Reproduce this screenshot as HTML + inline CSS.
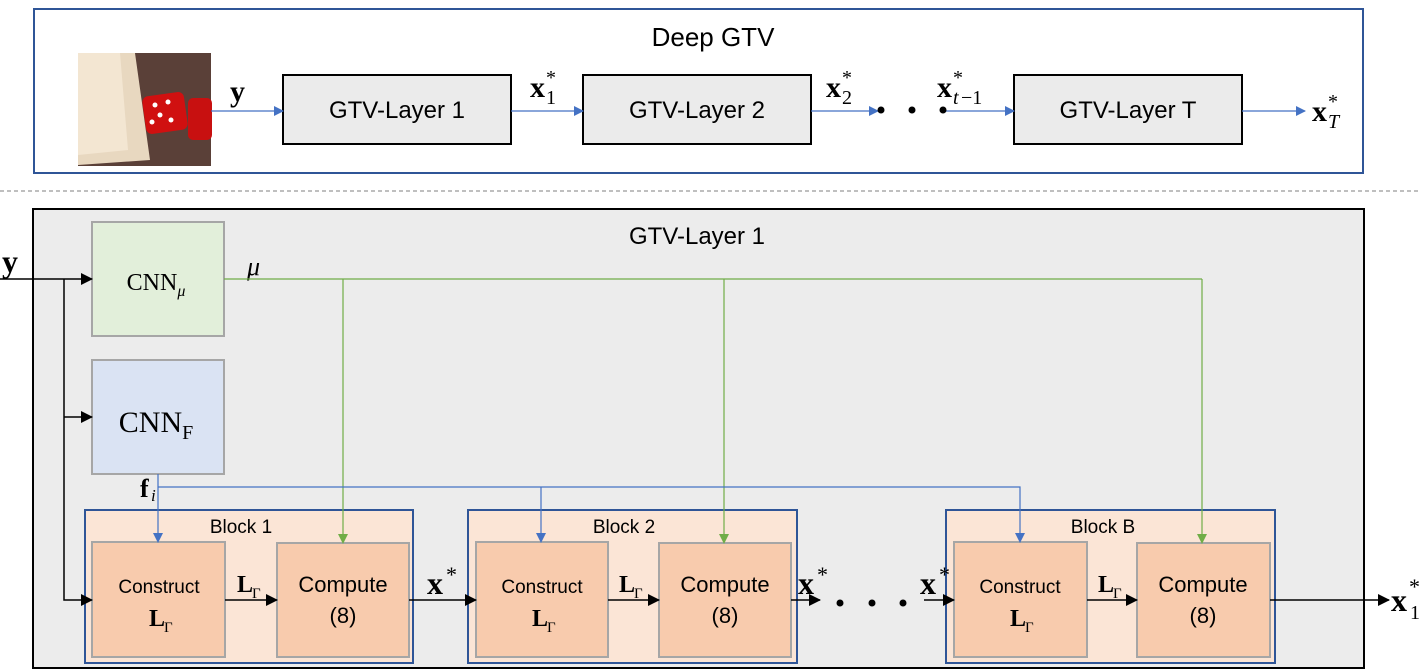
<!DOCTYPE html>
<html><head><meta charset="utf-8"><style>
html,body{margin:0;padding:0;background:#fff;}
svg{display:block;}
text{font-family:"Liberation Sans",sans-serif;}
.m{font-family:"Liberation Serif",serif;}
</style></head><body>
<svg width="1421" height="670" viewBox="0 0 1421 670" xmlns="http://www.w3.org/2000/svg">
<defs>
<marker id="ab" markerWidth="10" markerHeight="10" refX="9" refY="5" orient="auto" markerUnits="userSpaceOnUse"><path d="M0,0 L10,5 L0,10 z" fill="#4472c4"/></marker>
<marker id="ak" markerWidth="12" markerHeight="12" refX="11" refY="6" orient="auto" markerUnits="userSpaceOnUse"><path d="M0,0 L12,6 L0,12 z" fill="#000"/></marker>
<marker id="ag" markerWidth="10" markerHeight="10" refX="9" refY="5" orient="auto" markerUnits="userSpaceOnUse"><path d="M0,0 L10,5 L0,10 z" fill="#70ad47"/></marker>
</defs>
<rect x="34" y="9" width="1329" height="164" fill="#fff" stroke="#2f5597" stroke-width="2"/>
<text x="713" y="46" font-size="26" text-anchor="middle">Deep GTV</text>
<rect x="78" y="53" width="133" height="113" fill="#5a4038"/>
<polygon points="78,53 135,53 150,160 78,165" fill="#e8d8c0"/>
<polygon points="78,53 120,53 128,150 78,155" fill="#f3e6d2"/>
<rect x="144" y="94" width="42" height="38" rx="6" fill="#d01010" transform="rotate(-8 165 113)"/>
<rect x="188" y="98" width="24" height="42" rx="5" fill="#c81010"/>
<circle cx="155" cy="105" r="2.5" fill="#fff"/><circle cx="168" cy="102" r="2.5" fill="#fff"/><circle cx="160" cy="115" r="2.5" fill="#fff"/><circle cx="152" cy="122" r="2.5" fill="#fff"/><circle cx="171" cy="120" r="2.5" fill="#fff"/>
<g fill="#ebebeb" stroke="#000" stroke-width="2">
<rect x="283" y="75" width="228" height="69"/>
<rect x="583" y="75" width="228" height="69"/>
<rect x="1014" y="75" width="228" height="69"/>
</g>
<g font-size="24" text-anchor="middle">
<text x="397" y="118">GTV-Layer 1</text>
<text x="697" y="118">GTV-Layer 2</text>
<text x="1128" y="118">GTV-Layer T</text>
</g>
<g stroke="#4472c4" stroke-width="1.3" marker-end="url(#ab)">
<line x1="211" y1="111" x2="283" y2="111"/>
<line x1="511" y1="111" x2="583" y2="111"/>
<line x1="811" y1="111" x2="878" y2="111"/>
<line x1="944" y1="111" x2="1014" y2="111"/>
<line x1="1242" y1="111" x2="1305" y2="111"/>
</g>
<g fill="#000"><circle cx="881" cy="110" r="3.5"/><circle cx="912" cy="110" r="3.5"/><circle cx="943" cy="110" r="3.5"/></g>
<g font-size="30" font-weight="bold">
<text x="230" y="101" class="m">y</text>
<text x="530" y="97" class="m">x</text>
<text x="826" y="97" class="m">x</text>
<text x="937" y="97" class="m">x</text>
<text x="1312" y="121" class="m">x</text>
</g>
<g font-size="20">
<text x="546" y="84" class="m">*</text><text x="546" y="104" class="m">1</text>
<text x="842" y="84" class="m">*</text><text x="842" y="104" class="m">2</text>
<text x="953" y="84" class="m">*</text><text x="953" y="104" class="m" font-style="italic">t</text><text x="961" y="104" class="m">−1</text>
<text x="1328" y="108" class="m">*</text><text x="1328" y="128" class="m" font-style="italic">T</text>
</g>
<line x1="0" y1="191" x2="1421" y2="191" stroke="#999" stroke-width="1.2" stroke-dasharray="4,3"/>
<rect x="33" y="209" width="1331" height="459" fill="#ececec" stroke="#000" stroke-width="2"/>
<text x="697" y="244" font-size="24" text-anchor="middle">GTV-Layer 1</text>
<rect x="92" y="222" width="132" height="114" fill="#e2efda" stroke="#a6a6a6" stroke-width="2"/>
<rect x="92" y="360" width="132" height="114" fill="#dae3f3" stroke="#a6a6a6" stroke-width="2"/>
<text x="156" y="290" font-size="24" text-anchor="middle" class="m">CNN<tspan font-size="16" font-style="italic" dy="6">μ</tspan></text>
<text x="156" y="432" font-size="30" text-anchor="middle" class="m">CNN<tspan font-size="20" dy="7">F</tspan></text>
<g fill="#fbe5d6" stroke="#2f5597" stroke-width="2">
<rect x="85" y="510" width="328" height="153"/>
<rect x="468" y="510" width="329" height="153"/>
<rect x="946" y="510" width="329" height="153"/>
</g>
<g fill="#f8cbad" stroke="#a6a6a6" stroke-width="2">
<rect x="92" y="542" width="133" height="115"/><rect x="277" y="543" width="132" height="114"/>
<rect x="476" y="542" width="132" height="115"/><rect x="659" y="543" width="132" height="114"/>
<rect x="954" y="542" width="133" height="115"/><rect x="1137" y="543" width="133" height="114"/>
</g>
<g font-size="19" text-anchor="middle">
<text x="241" y="533">Block 1</text><text x="624" y="533">Block 2</text><text x="1103" y="533">Block B</text>
</g>
<g font-size="19" text-anchor="middle">
<text x="159" y="593">Construct</text><text x="542" y="593">Construct</text><text x="1020" y="593">Construct</text>
</g>
<g font-size="22" text-anchor="middle">
<text x="343" y="592">Compute</text><text x="343" y="623">(8)</text>
<text x="725" y="592">Compute</text><text x="725" y="623">(8)</text>
<text x="1203" y="592">Compute</text><text x="1203" y="623">(8)</text>
</g>
<g font-size="24" font-weight="bold">
<text x="149" y="626" class="m">L</text><text x="532" y="626" class="m">L</text><text x="1010" y="626" class="m">L</text>
<text x="237" y="592" class="m">L</text><text x="619" y="592" class="m">L</text><text x="1098" y="592" class="m">L</text>
</g>
<g font-size="15">
<text x="164" y="632" class="m">Γ</text><text x="547" y="632" class="m">Γ</text><text x="1025" y="632" class="m">Γ</text>
<text x="252" y="598" class="m">Γ</text><text x="634" y="598" class="m">Γ</text><text x="1113" y="598" class="m">Γ</text>
</g>
<g stroke="#000" stroke-width="1.5" fill="none">
<line x1="0" y1="279" x2="92" y2="279" marker-end="url(#ak)"/>
<polyline points="64,279 64,600 92,600" marker-end="url(#ak)"/>
<polyline points="64,417 92,417" marker-end="url(#ak)"/>
<line x1="225" y1="600" x2="277" y2="600" marker-end="url(#ak)"/>
<line x1="608" y1="600" x2="659" y2="600" marker-end="url(#ak)"/>
<line x1="1087" y1="600" x2="1137" y2="600" marker-end="url(#ak)"/>
<line x1="409" y1="600" x2="476" y2="600" marker-end="url(#ak)"/>
<line x1="791" y1="600" x2="820" y2="600" marker-end="url(#ak)"/>
<line x1="924" y1="600" x2="954" y2="600" marker-end="url(#ak)"/>
<line x1="1270" y1="600" x2="1389" y2="600" marker-end="url(#ak)"/>
</g>
<g fill="#000"><circle cx="840" cy="603" r="3.5"/><circle cx="872" cy="603" r="3.5"/><circle cx="903" cy="603" r="3.5"/></g>
<g font-size="32" font-weight="bold">
<text x="2" y="272" class="m">y</text>
<text x="427" y="594" class="m">x</text><text x="798" y="594" class="m">x</text><text x="920" y="594" class="m">x</text>
<text x="1391" y="611" class="m">x</text>
<text x="140" y="497" class="m" font-size="26">f</text>
</g>
<g font-size="22">
<text x="446" y="582" class="m">*</text><text x="817" y="582" class="m">*</text><text x="939" y="582" class="m">*</text>
<text x="1409" y="594" class="m">*</text><text x="1410" y="619" class="m" font-size="20">1</text>
<text x="151" y="501" class="m" font-style="italic" font-size="17">i</text>
<text x="247" y="275" class="m" font-style="italic" font-size="26">μ</text>
</g>
<g stroke="#70ad47" stroke-width="1.2" fill="none">
<line x1="224" y1="279" x2="1202" y2="279"/>
<line x1="343" y1="279" x2="343" y2="543" marker-end="url(#ag)"/>
<line x1="724" y1="279" x2="724" y2="543" marker-end="url(#ag)"/>
<line x1="1202" y1="279" x2="1202" y2="543" marker-end="url(#ag)"/>
</g>
<g stroke="#4472c4" stroke-width="1.2" fill="none">
<line x1="158" y1="474" x2="158" y2="542" marker-end="url(#ab)"/>
<polyline points="158,487 1020,487 1020,542" marker-end="url(#ab)"/>
<line x1="541" y1="487" x2="541" y2="542" marker-end="url(#ab)"/>
</g>
</svg>
</body></html>
